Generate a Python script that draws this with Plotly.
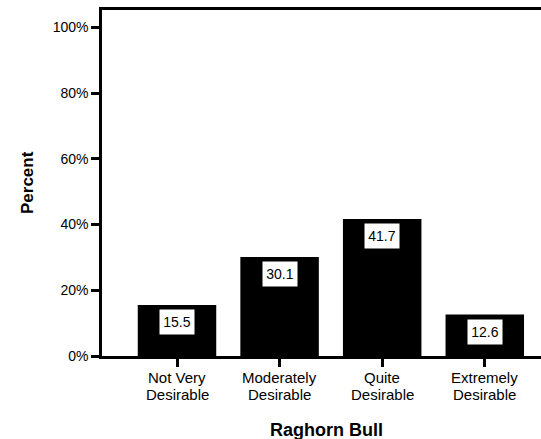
import plotly.graph_objects as go

categories = ["Not Very Desirable", "Moderately Desirable", "Quite Desirable", "Extremely Desirable"]
label_line1 = ["Not Very", "Moderately", "Quite", "Extremely"]
label_line2 = ["Desirable", "Desirable", "Desirable", "Desirable"]
percents = [15.5, 30.1, 41.7, 12.6]
labels = ["15.5", "30.1", "41.7", "12.6"]
ytick_vals = [0, 20, 40, 60, 80, 100]
ytick_text = ["0%", "20%", "40%", "60%", "80%", "100%"]

FONT = "Arial, Liberation Sans, sans-serif"

fig = go.Figure()
fig.add_trace(go.Bar(
    x=categories, y=percents,
    marker=dict(color="black", line=dict(width=0)),
    width=0.765,
    hoverinfo="skip",
))

# value boxes
for c, v, t in zip(categories, percents, labels):
    fig.add_annotation(
        x=c, y=v, xref="x", yref="y", text=t, showarrow=False,
        yanchor="top", yshift=-4,
        bgcolor="white", width=34, height=24, borderpad=0,
        font=dict(family=FONT, size=14, color="black"),
    )

# two-line category labels (tight line spacing)
for c, l1, l2 in zip(categories, label_line1, label_line2):
    fig.add_annotation(
        x=c, y=0, xref="x", yref="y", text=l1, showarrow=False,
        yanchor="top", yshift=-12, borderpad=0,
        font=dict(family=FONT, size=15, color="black"),
    )
    fig.add_annotation(
        x=c, y=0, xref="x", yref="y", text=l2, showarrow=False,
        yanchor="top", yshift=-29, borderpad=0,
        font=dict(family=FONT, size=15, color="black"),
    )

fig.add_annotation(
    x=0, y=0, xref="paper", yref="paper", text="<b>Raghorn Bull</b>",
    showarrow=False, xanchor="center", yanchor="middle",
    xshift=224, yshift=-73.5,
    font=dict(family=FONT, size=18, color="black"),
)
fig.add_annotation(
    x=0, y=0.5, xref="paper", yref="paper", text="<b>Percent</b>",
    showarrow=False, xanchor="center", yanchor="middle", textangle=-90,
    xshift=-75,
    font=dict(family=FONT, size=17, color="black"),
)

fig.update_layout(
    width=541, height=439,
    margin=dict(l=102, r=0, t=10, b=83, autoexpand=False),
    paper_bgcolor="white", plot_bgcolor="white",
    showlegend=False,
    font=dict(family=FONT, size=14, color="black"),
)
fig.update_xaxes(
    range=[-0.731, 3.548], showline=True, linecolor="black", linewidth=2.5,
    mirror=True, ticks="outside", ticklen=8, tickwidth=2.5, tickcolor="black",
    showticklabels=False, automargin=False,
    showgrid=False, zeroline=False,
)
fig.update_yaxes(
    range=[0, 105.3], tickvals=ytick_vals, ticktext=ytick_text,
    showline=True, linecolor="black", linewidth=2.5,
    ticks="outside", ticklen=8, tickwidth=2.5, tickcolor="black",
    showgrid=False, zeroline=False, automargin=False,
    tickfont=dict(family=FONT, size=14, color="black"),
)

fig.write_html("out.html", config={"displayModeBar": False},
               post_script="document.body.style.margin='0';")
